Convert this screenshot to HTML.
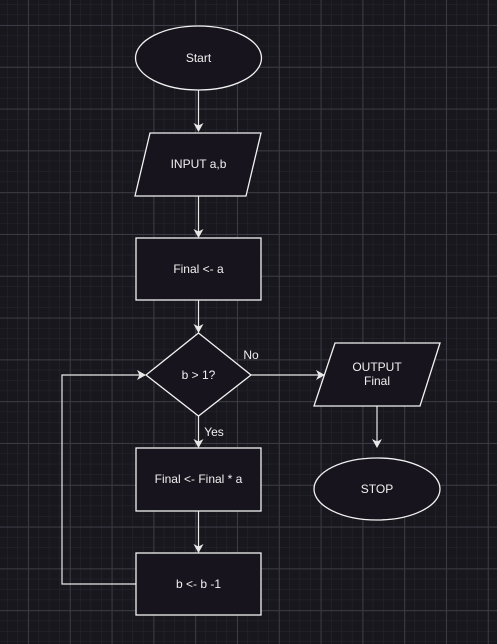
<!DOCTYPE html>
<html><head><meta charset="utf-8"><style>
html,body{margin:0;padding:0;background:#18171e;}
svg{display:block}
text{font-family:"Liberation Sans",sans-serif;font-size:12px;fill:#f0f0f0;text-anchor:middle;dominant-baseline:central}
</style></head><body>
<svg width="497" height="644" viewBox="0 0 497 644" xmlns="http://www.w3.org/2000/svg">
<defs>
<pattern id="minor" x="7" y="4" width="10.45" height="10.45" patternUnits="userSpaceOnUse">
<path d="M0 0V10.45M0 0H10.45" stroke="#27262d" stroke-width="1" fill="none"/>
</pattern>
<pattern id="major" x="28" y="25" width="41.8" height="41.8" patternUnits="userSpaceOnUse">
<path d="M0.5 0V41.8M0 0.5H41.8" stroke="#3b3a42" stroke-width="1" fill="none"/>
</pattern>
<marker id="ar" markerWidth="10" markerHeight="10" refX="8" refY="5" orient="auto" markerUnits="userSpaceOnUse">
<path d="M0 0L9 5L0 10L2.5 5Z" fill="#e8e8e8"/>
</marker>
</defs>
<rect width="497" height="644" fill="#18171e"/>
<rect width="497" height="644" fill="url(#minor)"/>
<rect width="497" height="644" fill="url(#major)"/>
<g stroke="#e8e8e8" stroke-width="1.2" fill="none">
<line x1="198.5" y1="90" x2="198.5" y2="131" marker-end="url(#ar)"/>
<line x1="198.5" y1="196" x2="198.5" y2="237" marker-end="url(#ar)"/>
<line x1="198.5" y1="300" x2="198.5" y2="332" marker-end="url(#ar)"/>
<line x1="198.5" y1="416" x2="198.5" y2="447" marker-end="url(#ar)"/>
<line x1="198.5" y1="511" x2="198.5" y2="552" marker-end="url(#ar)"/>
<polyline points="136,584 62,584 62,375 145,375" marker-end="url(#ar)"/>
<line x1="251" y1="375" x2="324" y2="375" marker-end="url(#ar)"/>
<line x1="377" y1="406" x2="377" y2="447" marker-end="url(#ar)"/>
</g>
<g stroke="#f2f2f2" stroke-width="1.3" fill="#18141d">
<ellipse cx="198.5" cy="58" rx="63" ry="32"/>
<polygon points="150,133 261,133 246,196 135,196"/>
<rect x="136" y="238" width="125" height="62"/>
<polygon points="198.5,333 251,375 198.5,416 146,375"/>
<rect x="136" y="448" width="125" height="63"/>
<rect x="136" y="553" width="125" height="62"/>
<polygon points="335,343 440,343 420,406 314,406"/>
<ellipse cx="377" cy="489" rx="63" ry="31"/>
</g>
<text x="198.5" y="58">Start</text>
<text x="198.5" y="164">INPUT a,b</text>
<text x="198.5" y="269">Final &lt;- a</text>
<text x="198.5" y="375">b &gt; 1?</text>
<text x="198.5" y="479">Final &lt;- Final * a</text>
<text x="198.5" y="584">b &lt;- b -1</text>
<text x="377" y="367">OUTPUT</text>
<text x="377" y="381">Final</text>
<text x="377" y="489">STOP</text>
<text x="251" y="355">No</text>
<text x="214" y="432">Yes</text>
</svg>
</body></html>
